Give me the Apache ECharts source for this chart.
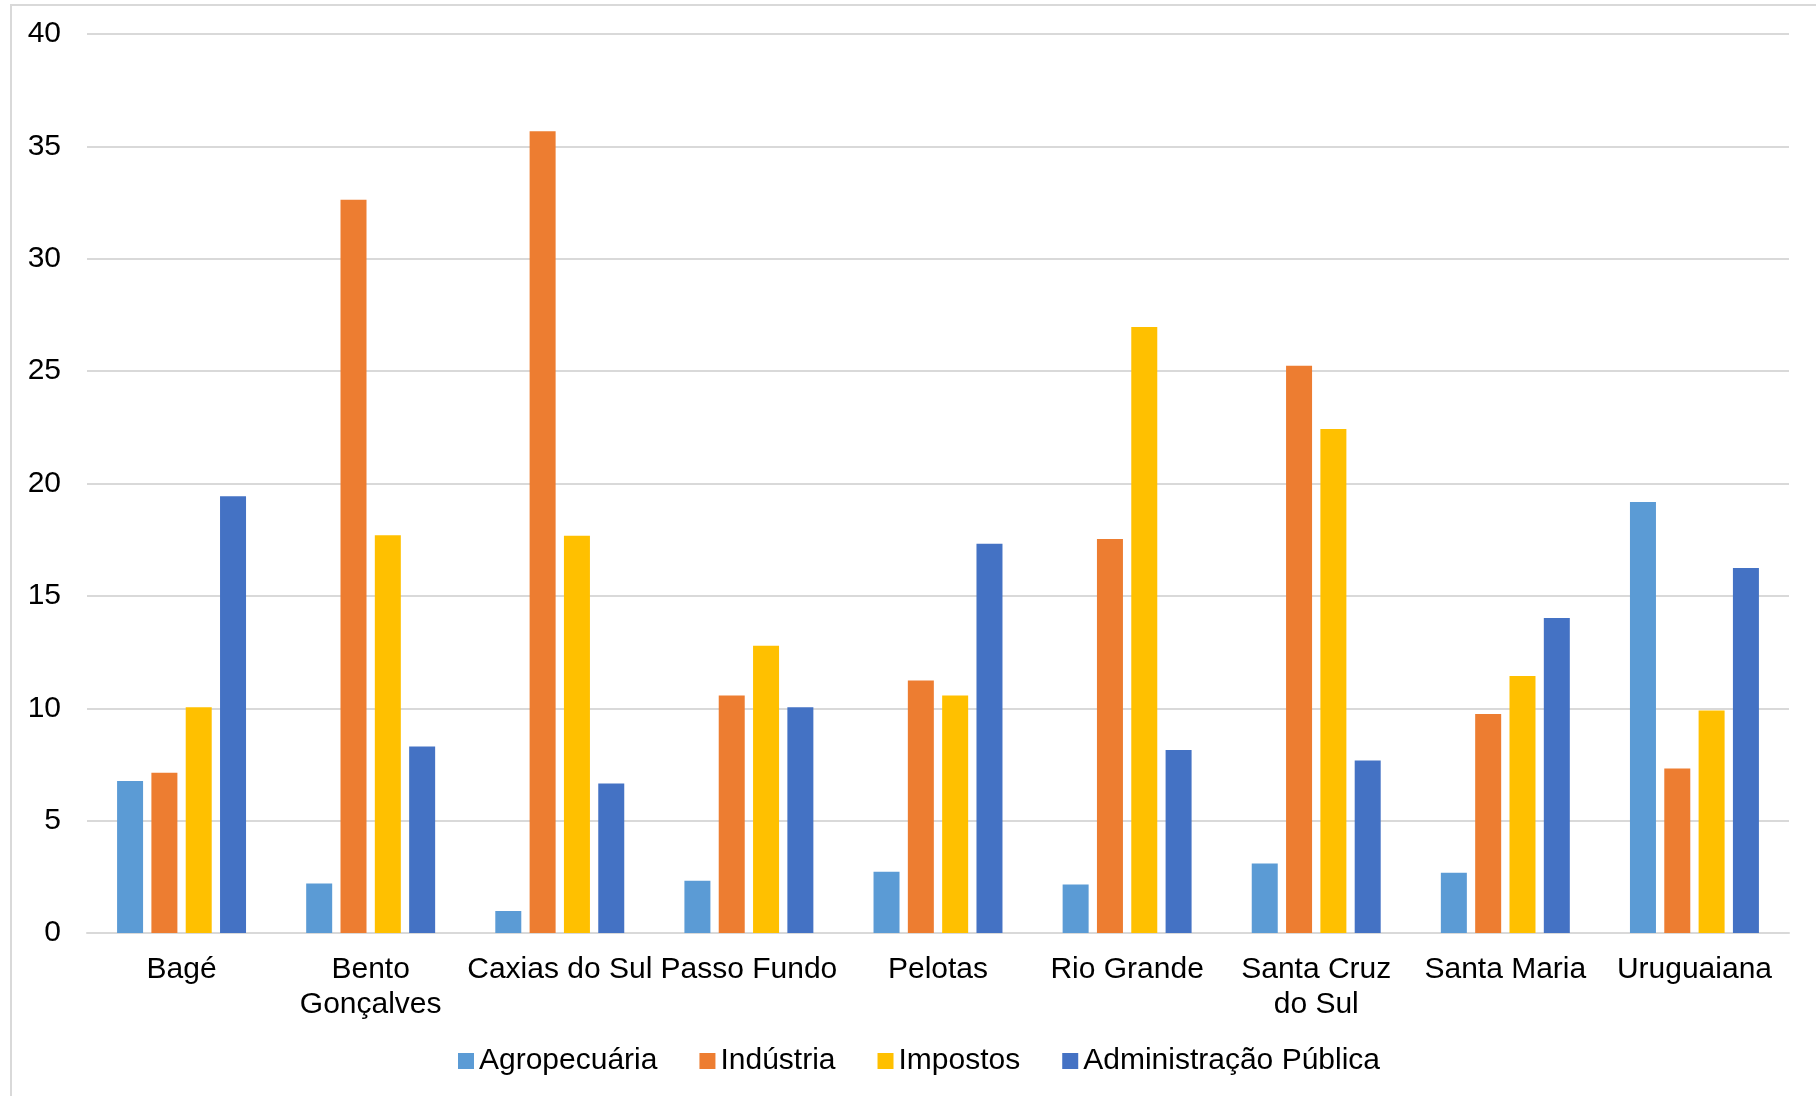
<!DOCTYPE html>
<html>
<head>
<meta charset="utf-8">
<script src="https://cdn.jsdelivr.net/npm/echarts@6/dist/echarts.min.js"></script>
<style>
  html, body { margin: 0; padding: 0; background: #ffffff; }
  #chart { width: 1816px; height: 1096px; }
</style>
</head>
<body>
<div id="chart"></div>
<script>
// Municípios (eixo das categorias)
const categories = ['Bagé', 'Bento\nGonçalves', 'Caxias do Sul', 'Passo Fundo', 'Pelotas',
  'Rio Grande', 'Santa Cruz\ndo Sul', 'Santa Maria', 'Uruguaiana'];

// Participação de cada setor (%)
const agropecuaria = [6.76, 2.2, 0.98, 2.32, 2.73, 2.16, 3.09, 2.68, 19.18];
const industria = [7.13, 32.63, 35.67, 10.57, 11.24, 17.53, 25.24, 9.74, 7.32];
const impostos = [10.05, 17.7, 17.68, 12.78, 10.57, 26.96, 22.42, 11.44, 9.9];
const administracao = [19.43, 8.3, 6.65, 10.05, 17.32, 8.14, 7.68, 14.02, 16.24];

// Escala do eixo Y
const yMin = 0;
const yMax = 40;
const yStep = 5;

const FONT = '"Liberation Sans", Arial, sans-serif';
const gridColor = '#d9d9d9';

const chart = echarts.init(document.getElementById('chart'), null, { renderer: 'canvas' });

function barSeries(name, data, color) {
  return {
    name: name,
    type: 'bar',
    data: data,
    barWidth: 26,
    barGap: '32%',
    itemStyle: { color: color },
    emphasis: { disabled: true }
  };
}

chart.setOption({
  animation: false,
  textStyle: { fontFamily: FONT },
  graphic: [{
    type: 'rect',
    shape: { x: 11, y: 5, width: 1900, height: 1200 },
    style: { fill: 'none', stroke: gridColor, lineWidth: 2 },
    silent: true
  }],
  grid: { left: 87, right: 27, top: 34, bottom: 163, containLabel: false },
  legend: {
    left: 458,
    top: 1046,
    padding: 0,
    itemWidth: 16,
    itemHeight: 16,
    itemGap: 42,
    icon: 'rect',
    textStyle: { fontFamily: FONT, fontSize: 30, color: '#000' },
    data: ['Agropecuária', 'Indústria', 'Impostos', 'Administração Pública']
  },
  xAxis: {
    type: 'category',
    data: categories,
    axisTick: { show: false },
    axisLine: { lineStyle: { color: gridColor, width: 2 } },
    axisLabel: {
      interval: 0,
      margin: 19,
      fontFamily: FONT,
      fontSize: 30,
      lineHeight: 35,
      color: '#000'
    }
  },
  yAxis: {
    type: 'value',
    min: yMin,
    max: yMax,
    interval: yStep,
    axisLine: { show: false },
    axisTick: { show: false },
    splitLine: { lineStyle: { color: gridColor, width: 2 } },
    axisLabel: { margin: 26, fontFamily: FONT, fontSize: 30, color: '#000' }
  },
  series: [
    barSeries('Agropecuária', agropecuaria, '#5B9BD5'),
    barSeries('Indústria', industria, '#ED7D31'),
    barSeries('Impostos', impostos, '#FFC000'),
    barSeries('Administração Pública', administracao, '#4472C4')
  ]
});
</script>
</body>
</html>
